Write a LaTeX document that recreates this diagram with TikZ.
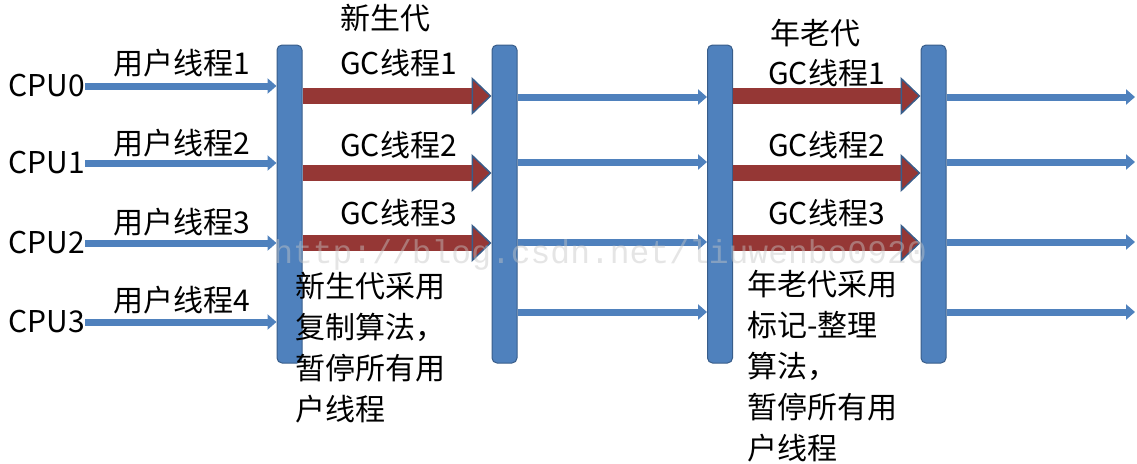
\documentclass[tikz,border=0pt]{standalone}
\usepackage{fontspec}
\setmainfont{Noto Sans CJK SC}
\newfontfamily\markfont{Liberation Mono}
\usetikzlibrary{arrows.meta}
\definecolor{barblue}{HTML}{4F81BD}
\definecolor{barline}{HTML}{385D8A}
\definecolor{gcred}{HTML}{953735}
\tikzset{
  bar/.style={draw=barline, fill=barblue, line width=1pt, rounded corners=5pt,
    minimum width=25pt, minimum height=318pt, inner sep=0pt},
  txt/.style={inner sep=0pt, anchor=west, font=\fontsize{30}{41}\selectfont},
  userarrow/.style={draw=barblue, line width=7pt, -{Triangle[width=15pt,length=9pt]}},
  gcarrow/.style={draw=gcred, line width=16pt,
    -{Triangle[width=38pt,length=20pt,line width=1.5pt,color=barline,fill=gcred]}},
  watermark/.style={inner sep=0pt, text=gray!45, opacity=0.45,
    font=\markfont\fontsize{33}{33}\selectfont}
}
\begin{document}
\begin{tikzpicture}[x=1pt,y=-1pt]
\useasboundingbox (0,0) rectangle (1137,463);
% bars
\node [bar] (bar1) at (289.5,204) {};
\node [bar] (bar2) at (504.5,204) {};
\node [bar] (bar3) at (720,204) {};
\node [bar] (bar4) at (933.5,204) {};

% cpus
\node [txt, anchor=east] (cpu0) at (85,86) {CPU0};
\node [txt, anchor=east] (cpu1) at (85,163) {CPU1};
\node [txt, anchor=east] (cpu2) at (85,243) {CPU2};
\node [txt, anchor=east] (cpu3) at (85,322) {CPU3};

% rows
\coordinate (gc1) at (0,96);
\coordinate (gc2) at (0,173);
\coordinate (gc3) at (0,243);
\coordinate (run1) at (0,97);
\coordinate (run2) at (0,162);
\coordinate (run3) at (0,242);
\coordinate (run4) at (0,312);
\coordinate (end) at (1135,0);

% user threads
\foreach \i in {0,...,3}
  \draw [userarrow] (cpu\i.east) -- (cpu\i.east -| bar1.west);
\node [txt] (user1) at (113,63) {用户线程1};
\node [txt] (user2) at (113,143) {用户线程2};
\node [txt] (user3) at (113,222) {用户线程3};
\node [txt] (user4) at (113,300) {用户线程4};

% young gc
\foreach \i in {1,2,3}
  \draw [gcarrow] (bar1.east |- gc\i) -- (bar2.west |- gc\i);
\node [txt] (young) at (340,18) {新生代};
\node [txt] (ygc1) at (340,63) {GC线程1};
\node [txt] (ygc2) at (340,145) {GC线程2};
\node [txt] (ygc3) at (340,213) {GC线程3};
\node [txt, anchor=north west, align=left] (ynote) at (295,272)
  {新生代采用\\复制算法，\\暂停所有用\\户线程};

% back to user threads
\foreach \i in {1,...,4}
  \draw [userarrow] (bar2.east |- run\i) -- (bar3.west |- run\i);

% old gc
\foreach \i in {1,2,3}
  \draw [gcarrow] (bar3.east |- gc\i) -- (bar4.west |- gc\i);
\node [txt] (old) at (770,33) {年老代};
\node [txt] (ogc1) at (768,73) {GC线程1};
\node [txt] (ogc2) at (768,145) {GC线程2};
\node [txt] (ogc3) at (768,213) {GC线程3};
\node [txt, anchor=north west, align=left] (onote) at (747,270)
  {年老代采用\\标记-整理\\算法，\\暂停所有用\\户线程};

% after gc
\foreach \i in {1,...,4}
  \draw [userarrow] (bar4.east |- run\i) -- (end |- run\i);

\node [watermark] (mark) at (600,255) {http://blog.csdn.net/liuwenbo0920};
\end{tikzpicture}
\end{document}
